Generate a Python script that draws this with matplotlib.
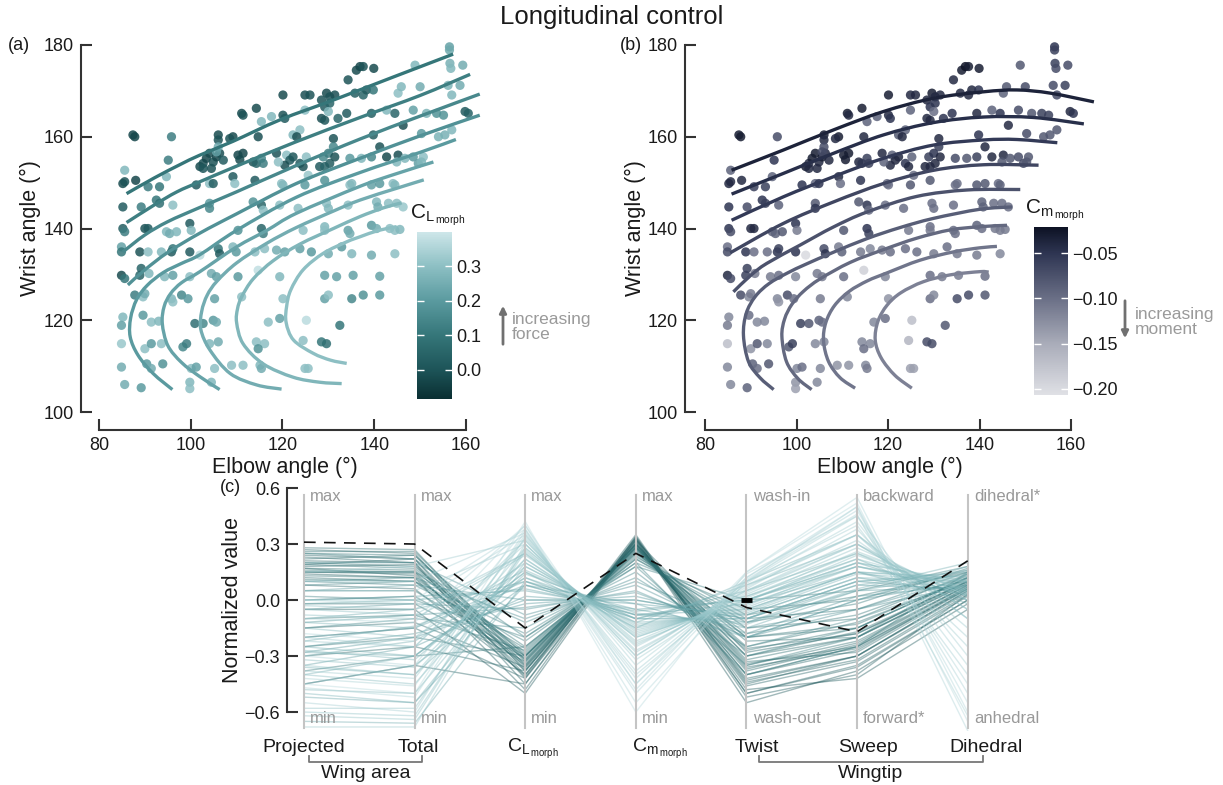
import numpy as np
import matplotlib
matplotlib.use("Agg")
import matplotlib.pyplot as plt
from matplotlib.colors import LinearSegmentedColormap, Normalize
from matplotlib.cm import ScalarMappable
from matplotlib.patches import FancyArrowPatch, PathPatch
from matplotlib.path import Path

plt.rcParams['font.family'] = ['Liberation Sans', 'DejaVu Sans']
plt.rcParams['mathtext.fontset'] = 'custom'
plt.rcParams['mathtext.rm'] = 'Liberation Sans'
plt.rcParams['text.color'] = '#1a1a1a'

# ---- wing configurations: elbow / wrist angle and morphing coefficients ----
elbow = [
    156.4, 156.4, 156.5, 156.7, 159.3, 148.9, 136.1, 136.9, 137.6, 139.9,
    134.3, 150.0, 156.1, 158.7, 156.9, 145.2, 145.9, 137.6, 138.3, 139.8,
    135.8, 129.6, 130.3, 131.4, 128.5, 129.2, 130.3, 124.9, 126.0, 120.1,
    124.9, 130.0, 128.5, 129.2, 134.0, 132.1, 139.4, 142.7, 144.5, 146.3,
    148.5, 151.4, 153.6, 155.1, 159.8, 160.5, 154.0, 155.4, 150.3, 156.9,
    114.3, 111.1, 111.4, 115.4, 117.6, 120.1, 120.5, 109.2, 108.5, 106.0,
    106.0, 114.7, 122.3, 123.8, 123.1, 131.1, 139.8, 95.1, 87.8, 87.4,
    95.8, 85.6, 85.2, 85.6, 88.0, 90.7, 93.2, 94.7, 101.2, 102.0,
    102.7, 103.4, 104.1, 104.9, 105.6, 106.3, 107.1, 104.5, 102.7, 106.0,
    105.6, 109.2, 109.6, 110.3, 110.7, 111.4, 113.6, 114.3, 115.4, 115.8,
    118.7, 120.9, 121.6, 120.5, 119.1, 123.8, 124.5, 125.2, 122.3, 125.6,
    128.1, 129.2, 130.3, 128.9, 130.0, 131.1, 131.4, 134.7, 137.2, 139.4,
    141.2, 142.7, 145.2, 144.9, 146.7, 148.5, 149.6, 150.7, 150.3, 104.1,
    104.9, 114.0, 119.8, 120.1, 124.9, 129.2, 134.7, 135.1, 139.4, 141.2,
    144.1, 144.5, 85.2, 89.2, 92.5, 93.2, 96.1, 104.1, 104.1, 113.6,
    115.4, 115.8, 119.4, 123.4, 129.6, 130.0, 134.3, 140.5, 140.8, 143.1,
    144.9, 146.3, 85.2, 85.6, 90.0, 90.7, 94.7, 95.4, 96.9, 99.8,
    100.1, 110.3, 115.4, 115.8, 124.5, 129.2, 129.2, 134.3, 134.7, 139.4,
    140.5, 143.4, 144.5, 145.6, 84.9, 84.9, 88.9, 90.7, 93.6, 95.8,
    96.1, 99.8, 102.0, 106.0, 106.3, 109.2, 109.9, 114.0, 116.1, 118.7,
    120.5, 123.8, 126.3, 130.0, 132.9, 135.1, 139.4, 144.5, 84.9, 85.6,
    89.2, 88.9, 90.9, 94.3, 96.1, 99.8, 104.5, 105.6, 110.3, 114.7,
    119.4, 129.2, 131.8, 135.4, 141.2, 87.8, 89.6, 90.0, 95.8, 96.1,
    98.0, 99.4, 105.2, 111.1, 120.1, 129.2, 130.0, 135.1, 137.6, 141.2,
    85.2, 84.9, 89.6, 91.4, 93.0, 100.9, 102.7, 104.9, 105.6, 116.9,
    119.4, 125.2, 132.5, 84.9, 90.0, 91.4, 93.6, 98.3, 99.1, 104.1,
    106.0, 114.3, 116.1, 114.7, 124.5, 128.5, 129.6, 84.9, 90.4, 91.4,
    93.9, 100.1, 101.2, 105.2, 108.9, 111.4, 115.1, 115.4, 124.9, 125.6,
    85.6, 89.2, 99.8, 99.8, 104.5]

wrist = [
    179.6, 178.9, 176.0, 174.9, 175.6, 175.6, 174.5, 175.3, 175.3, 174.9,
    172.4, 170.9, 171.2, 171.2, 169.1, 169.5, 170.9, 169.1, 170.2, 170.2,
    169.5, 169.5, 168.7, 169.1, 168.0, 166.5, 167.3, 169.1, 169.1, 169.1,
    165.8, 165.5, 164.0, 163.6, 165.1, 164.0, 165.1, 165.8, 165.1, 162.5,
    165.8, 165.1, 165.1, 164.7, 165.5, 165.1, 160.0, 160.4, 160.7, 161.5,
    166.2, 165.1, 164.7, 163.3, 164.4, 164.7, 164.0, 160.0, 159.6, 160.4,
    159.3, 160.0, 160.4, 161.5, 160.0, 159.6, 160.4, 154.9, 160.0, 160.4,
    160.0, 152.7, 149.8, 150.2, 150.5, 149.1, 149.1, 151.3, 149.5, 153.5,
    154.2, 155.3, 156.4, 154.5, 155.6, 156.4, 154.9, 153.1, 153.1, 157.8,
    156.7, 151.3, 149.8, 156.0, 155.0, 156.4, 154.5, 154.2, 155.3, 154.2,
    156.4, 156.0, 154.9, 153.8, 154.5, 154.2, 153.5, 155.6, 155.6, 151.6,
    153.5, 153.5, 154.2, 155.6, 156.4, 157.8, 155.6, 155.3, 155.3, 155.6,
    157.8, 155.6, 156.0, 154.5, 155.3, 155.6, 154.2, 155.6, 154.5, 149.8,
    149.8, 150.5, 149.8, 149.5, 149.5, 150.5, 149.5, 149.8, 149.5, 149.8,
    149.8, 149.5, 144.7, 144.7, 146.2, 145.5, 145.1, 145.5, 144.4, 145.8,
    145.1, 144.0, 145.1, 144.4, 145.5, 144.4, 145.1, 145.8, 144.7, 145.5,
    145.5, 144.7, 140.0, 139.3, 140.0, 140.0, 139.3, 138.9, 139.3, 141.1,
    139.6, 139.6, 140.0, 138.9, 139.6, 140.4, 139.6, 139.6, 138.9, 140.7,
    140.0, 140.0, 139.6, 139.8, 136.0, 134.9, 134.9, 134.9, 134.9, 134.9,
    135.6, 134.9, 134.2, 135.6, 134.5, 136.0, 134.9, 134.9, 135.6, 135.3,
    134.9, 135.6, 134.9, 134.5, 136.0, 134.5, 134.2, 134.5, 129.8, 129.1,
    131.3, 129.8, 130.2, 129.5, 129.8, 129.5, 130.2, 129.5, 129.5, 130.9,
    129.5, 129.8, 129.5, 129.8, 129.6, 125.5, 125.1, 125.8, 124.7, 124.0,
    125.5, 124.7, 124.7, 125.1, 124.7, 124.7, 125.5, 124.7, 125.5, 125.5,
    120.7, 118.9, 121.1, 119.6, 119.8, 119.3, 119.3, 120.0, 119.6, 119.6,
    120.4, 120.0, 118.9, 114.9, 113.8, 114.9, 114.9, 114.2, 114.9, 114.9,
    115.3, 115.3, 114.9, 113.8, 115.6, 115.3, 114.9, 109.8, 110.5, 109.5,
    110.5, 109.5, 109.8, 109.5, 110.2, 110.2, 110.2, 109.5, 109.5, 109.5,
    106.0, 105.3, 106.5, 105.1, 106.5]

cl_morph = [
    0.22, 0.24, 0.26, 0.28, 0.25, 0.28, -0.02, -0.03, 0.00, -0.02,
    0.00, 0.25, 0.27, 0.25, 0.28, 0.30, 0.28, 0.05, 0.02, 0.10,
    0.03, -0.02, 0.00, -0.01, 0.00, 0.02, 0.05, -0.01, 0.00, -0.02,
    0.30, 0.28, -0.01, 0.01, 0.02, 0.05, 0.03, 0.28, 0.05, -0.01,
    0.22, 0.27, 0.18, 0.18, 0.02, 0.04, 0.27, 0.26, 0.20, 0.28,
    -0.02, -0.02, 0.00, 0.28, 0.28, 0.00, 0.02, -0.02, 0.00, -0.02,
    0.00, -0.01, 0.28, 0.30, -0.01, 0.00, 0.03, 0.12, -0.03, -0.03,
    0.12, 0.28, -0.02, 0.00, -0.03, 0.12, 0.10, 0.28, 0.02, -0.02,
    -0.01, -0.03, -0.02, 0.00, -0.03, -0.01, 0.02, 0.00, 0.01, 0.25,
    0.22, 0.02, 0.30, -0.03, -0.02, -0.03, 0.00, 0.05, 0.15, 0.12,
    0.00, 0.30, 0.02, -0.01, 0.30, 0.02, 0.00, 0.30, 0.01, 0.32,
    0.02, 0.05, 0.03, 0.15, 0.12, 0.15, 0.00, 0.20, 0.28, 0.15,
    0.00, -0.02, -0.01, 0.28, 0.28, 0.20, 0.22, 0.30, 0.28, 0.30,
    0.03, 0.02, 0.30, 0.28, 0.20, 0.18, 0.30, 0.28, 0.22, 0.20,
    0.30, 0.28, 0.02, 0.12, 0.10, 0.08, 0.30, 0.20, 0.15, 0.18,
    0.05, 0.30, 0.30, 0.30, 0.30, 0.28, 0.30, 0.28, 0.25, 0.30,
    0.30, 0.32, 0.03, 0.12, 0.00, 0.02, 0.28, 0.25, 0.28, 0.02,
    0.28, 0.18, 0.05, 0.12, 0.30, 0.28, 0.30, 0.22, 0.25, 0.20,
    0.25, 0.30, 0.30, 0.28, 0.22, 0.10, 0.00, 0.30, 0.28, 0.02,
    0.10, 0.02, 0.37, 0.10, 0.02, 0.28, 0.20, 0.30, 0.30, 0.25,
    0.22, 0.22, 0.20, 0.25, 0.20, 0.28, 0.25, 0.30, -0.02, 0.10,
    0.05, 0.05, 0.28, 0.28, 0.22, 0.30, 0.25, 0.22, 0.20, 0.38,
    0.28, 0.22, 0.22, 0.22, 0.22, 0.12, 0.30, 0.25, 0.28, 0.30,
    0.15, 0.20, 0.22, 0.30, 0.30, 0.22, 0.30, 0.15, 0.18, 0.20,
    0.28, 0.22, 0.20, 0.30, 0.28, 0.08, 0.15, 0.20, 0.25, 0.30,
    0.22, 0.37, 0.10, 0.32, 0.30, 0.20, 0.30, 0.15, 0.12, 0.28,
    0.25, 0.30, 0.30, 0.18, 0.30, 0.10, 0.08, 0.25, 0.20, 0.25,
    0.18, 0.30, 0.22, 0.30, 0.30, 0.30, 0.28, 0.25, 0.30, 0.30,
    0.25, 0.20, 0.28, 0.30, 0.28]

cm_morph = [
    -0.05, -0.06, -0.06, -0.07, -0.07, -0.08, -0.03, -0.02, -0.03, -0.03,
    -0.04, -0.07, -0.07, -0.06, -0.07, -0.09, -0.08, -0.04, -0.04, -0.05,
    -0.04, -0.03, -0.04, -0.04, -0.04, -0.05, -0.05, -0.04, -0.04, -0.03,
    -0.09, -0.10, -0.04, -0.04, -0.05, -0.05, -0.04, -0.09, -0.05, -0.04,
    -0.07, -0.08, -0.06, -0.06, -0.04, -0.05, -0.08, -0.08, -0.07, -0.08,
    -0.03, -0.03, -0.04, -0.09, -0.09, -0.04, -0.05, -0.03, -0.04, -0.03,
    -0.04, -0.04, -0.08, -0.09, -0.04, -0.04, -0.05, -0.05, -0.03, -0.03,
    -0.07, -0.09, -0.04, -0.04, -0.04, -0.06, -0.06, -0.09, -0.05, -0.03,
    -0.04, -0.03, -0.03, -0.04, -0.03, -0.04, -0.04, -0.04, -0.04, -0.07,
    -0.07, -0.04, -0.10, -0.03, -0.03, -0.03, -0.04, -0.05, -0.06, -0.06,
    -0.04, -0.09, -0.04, -0.04, -0.09, -0.05, -0.04, -0.09, -0.04, -0.10,
    -0.04, -0.04, -0.04, -0.06, -0.05, -0.06, -0.04, -0.07, -0.08, -0.06,
    -0.04, -0.04, -0.04, -0.08, -0.08, -0.07, -0.07, -0.08, -0.08, -0.09,
    -0.05, -0.05, -0.10, -0.10, -0.08, -0.08, -0.10, -0.10, -0.08, -0.08,
    -0.10, -0.09, -0.05, -0.07, -0.05, -0.06, -0.09, -0.08, -0.05, -0.08,
    -0.05, -0.10, -0.10, -0.10, -0.10, -0.10, -0.10, -0.09, -0.09, -0.10,
    -0.10, -0.10, -0.05, -0.07, -0.04, -0.04, -0.09, -0.09, -0.08, -0.05,
    -0.11, -0.08, -0.05, -0.06, -0.11, -0.10, -0.11, -0.10, -0.10, -0.09,
    -0.10, -0.11, -0.11, -0.11, -0.10, -0.07, -0.05, -0.10, -0.10, -0.05,
    -0.06, -0.05, -0.20, -0.07, -0.05, -0.11, -0.09, -0.11, -0.12, -0.11,
    -0.10, -0.10, -0.10, -0.11, -0.10, -0.11, -0.11, -0.12, -0.04, -0.07,
    -0.06, -0.06, -0.11, -0.11, -0.10, -0.12, -0.11, -0.11, -0.10, -0.19,
    -0.12, -0.10, -0.11, -0.11, -0.10, -0.07, -0.12, -0.11, -0.12, -0.13,
    -0.07, -0.10, -0.11, -0.12, -0.13, -0.10, -0.12, -0.07, -0.07, -0.08,
    -0.12, -0.11, -0.10, -0.12, -0.12, -0.06, -0.08, -0.09, -0.10, -0.12,
    -0.10, -0.17, -0.08, -0.17, -0.13, -0.08, -0.12, -0.08, -0.06, -0.12,
    -0.12, -0.12, -0.12, -0.10, -0.16, -0.07, -0.07, -0.12, -0.09, -0.10,
    -0.08, -0.12, -0.10, -0.12, -0.13, -0.13, -0.12, -0.11, -0.14, -0.14,
    -0.12, -0.09, -0.13, -0.14, -0.12]

# ---- fitted iso-lines (elbow, wrist) of C_L and C_m ----
cl_curves = [
    ([86.0, 92.0, 97.6, 102.0, 109.2, 119.5, 131.1, 144.1, 157.2],
     [147.6, 151.0, 153.9, 156.0, 159.0, 163.7, 168.0, 173.0, 178.0]),
    ([86.0, 92.0, 97.0, 102.0, 110.0, 122.7, 136.9, 150.0, 160.9],
     [141.3, 145.1, 148.0, 150.2, 153.6, 158.8, 164.2, 169.0, 173.6]),
    ([85.2, 90.0, 95.0, 102.0, 110.0, 122.7, 136.9, 150.0, 163.0],
     [134.9, 138.6, 141.5, 144.6, 148.0, 153.6, 159.5, 164.5, 169.3]),
    ([86.3, 90.0, 95.0, 102.0, 110.0, 123.0, 136.9, 150.0, 163.0],
     [127.7, 131.0, 134.8, 139.0, 143.2, 149.8, 155.3, 160.2, 164.7]),
    ([96.0, 91.8, 88.5, 86.8, 86.9, 88.2, 90.5, 94.0, 98.0, 102.0, 110.0, 123.0, 136.9, 150.0, 157.8],
     [104.9, 108.4, 112.4, 116.4, 120.5, 124.5, 127.6, 130.4, 132.4, 134.3, 139.6, 146.8, 152.2, 156.6, 159.4]),
    ([106.3, 102.0, 98.0, 95.0, 93.8, 94.2, 95.6, 98.0, 102.0, 110.0, 116.6, 123.0, 136.9, 145.0, 152.9],
     [104.9, 107.7, 110.8, 114.5, 119.3, 123.0, 125.8, 128.2, 130.6, 136.0, 139.6, 143.3, 149.2, 152.0, 154.5]),
    ([119.8, 114.4, 108.6, 104.2, 102.2, 102.4, 103.6, 105.7, 110.0, 116.6, 123.0, 131.1, 136.9, 145.0, 150.8],
     [105.0, 105.9, 108.4, 113.5, 118.0, 122.0, 125.5, 128.5, 132.5, 136.8, 140.2, 143.8, 146.2, 148.8, 150.6]),
    ([132.9, 128.1, 122.3, 115.8, 111.4, 110.0, 110.2, 111.1, 113.6, 118.0, 123.8, 131.1, 136.9, 142.0, 146.0],
     [106.2, 106.5, 107.6, 110.5, 114.9, 119.5, 122.5, 125.1, 129.0, 133.0, 136.6, 140.0, 142.6, 144.5, 145.6]),
    ([134.0, 130.5, 126.7, 122.4, 120.8, 120.9, 121.8, 124.5, 128.9, 134.0, 136.9, 141.0, 144.9],
     [110.6, 111.3, 112.8, 115.7, 119.5, 123.0, 126.6, 131.0, 134.6, 137.1, 138.2, 139.6, 140.4]),
]
cl_levels = [0.10, 0.125, 0.15, 0.175, 0.20, 0.225, 0.25, 0.275, 0.30]

cm_curves = [
    ([85.8, 97.1, 108.1, 119.0, 130.0, 140.9, 148.2, 155.5, 165.0],
     [152.7, 157.1, 161.5, 165.5, 168.4, 169.8, 170.2, 169.5, 167.6]),
    ([85.8, 97.1, 108.1, 119.0, 130.0, 140.9, 151.8, 162.8],
     [147.5, 152.0, 156.4, 160.4, 163.1, 164.3, 164.2, 162.8]),
    ([85.8, 97.1, 108.1, 119.0, 130.0, 140.9, 148.2, 157.0],
     [141.8, 146.9, 151.3, 155.3, 158.2, 159.3, 159.4, 158.7]),
    ([85.5, 97.1, 108.1, 119.0, 130.0, 140.9, 152.9],
     [134.7, 141.1, 145.8, 149.8, 152.7, 153.9, 153.8]),
    ([86.2, 90.0, 93.5, 100.8, 108.0, 115.4, 126.3, 137.3, 148.9],
     [126.2, 129.8, 132.4, 136.4, 140.3, 143.6, 147.0, 148.4, 148.5]),
    ([95.0, 92.0, 89.5, 88.4, 89.0, 91.0, 94.0, 98.0, 102.0, 108.0, 115.4, 122.6, 129.9, 140.1, 147.1],
     [104.9, 107.5, 111.0, 116.7, 121.5, 125.2, 128.0, 130.3, 132.2, 134.8, 137.8, 140.2, 142.2, 144.2, 144.7]),
    ([103.3, 100.3, 97.8, 96.8, 97.4, 99.0, 101.5, 105.1, 111.7, 119.0, 126.3, 133.6, 140.1, 146.0],
     [104.9, 107.3, 111.0, 116.5, 120.3, 123.5, 126.3, 129.0, 132.6, 135.4, 137.9, 139.7, 140.4, 140.7]),
    ([112.8, 109.5, 107.0, 105.9, 106.4, 108.3, 111.5, 115.5, 119.7, 127.0, 134.3, 140.1, 143.8],
     [105.2, 107.5, 111.0, 115.5, 119.5, 123.2, 126.3, 128.6, 130.3, 133.1, 134.9, 135.8, 136.1]),
    ([125.2, 121.5, 118.5, 117.2, 117.8, 119.8, 122.8, 127.7, 133.6, 140.1, 142.0],
     [105.2, 108.0, 111.8, 115.7, 119.8, 123.3, 126.0, 128.4, 129.9, 130.6, 130.5]),
]
cm_levels = [-0.035, -0.045, -0.055, -0.065, -0.075, -0.085, -0.095, -0.105, -0.115]

# ---- parallel coordinates (normalized values) ----
axis_names = ['Projected', 'Total', r'$\mathregular{C_{L_{\,morph}}}$',
              r'$\mathregular{C_{m_{\,morph}}}$', 'Twist', 'Sweep', 'Dihedral']
top_names = ['max', 'max', 'max', 'max', 'wash-in', 'backward', 'dihedral*']
bottom_names = ['min', 'min', 'min', 'min', 'wash-out', 'forward*', 'anhedral']

pc_projected = [
    0.28, 0.27, 0.25, 0.24, 0.22, 0.21, 0.20, 0.19, 0.18, 0.17, 0.16, 0.15, 0.14, 0.13, 0.12,
    0.10, 0.08, 0.05, 0.02, -0.02, -0.05, -0.10, -0.15, -0.20, -0.25, -0.30, -0.38, -0.45,
    0.26, 0.23, 0.19, 0.17, 0.15, 0.11, 0.00,
    0.10, 0.05, 0.00, -0.05, -0.10, -0.15, -0.20, -0.25, -0.30, 0.15, 0.20, -0.35, -0.40,
    0.08, -0.02, -0.12, -0.22, -0.28, 0.25, -0.45,
    0.05, 0.00, -0.05, -0.10, -0.15, -0.20, -0.25, -0.30, -0.35, -0.40, -0.45, -0.50, -0.55,
    -0.60, -0.65, -0.68, 0.10, -0.08, -0.18, -0.28, -0.38, -0.48, -0.58, 0.00, -0.12, -0.22,
    -0.32, -0.42, -0.52, -0.62, 0.15, -0.03, -0.27, -0.47, -0.36]
pc_total = [
    0.27, 0.25, 0.24, 0.22, 0.24, 0.20, 0.18, 0.22, 0.19, 0.16, 0.15, 0.14, 0.12, 0.12, 0.10,
    0.08, 0.06, 0.05, 0.00, -0.02, -0.05, -0.08, -0.12, -0.15, -0.20, -0.25, -0.30, -0.35,
    0.26, 0.20, 0.17, 0.13, 0.15, 0.10, 0.02,
    0.12, 0.08, 0.02, -0.02, -0.05, -0.10, -0.15, -0.18, -0.22, 0.15, 0.20, -0.25, -0.30,
    0.10, 0.00, -0.08, -0.14, -0.20, 0.22, -0.35,
    0.05, -0.02, -0.08, -0.12, -0.20, -0.25, -0.30, -0.35, -0.40, -0.45, -0.50, -0.55, -0.60,
    -0.62, -0.66, -0.68, 0.10, -0.10, -0.22, -0.30, -0.42, -0.50, -0.58, 0.00, -0.15, -0.25,
    -0.36, -0.46, -0.55, -0.64, 0.18, -0.05, -0.32, -0.52, -0.40]
pc_cl = [
    -0.35, -0.38, -0.30, -0.42, -0.33, -0.45, -0.28, -0.36, -0.40, -0.32, -0.25, -0.38, -0.48,
    -0.30, -0.35, -0.22, -0.40, -0.30, -0.20, -0.33, -0.50, -0.27, -0.36, -0.42, -0.30, -0.38,
    -0.25, -0.45, -0.32, -0.37, -0.29, -0.34, -0.41, -0.26, -0.31,
    -0.10, 0.00, 0.05, -0.05, 0.10, -0.15, 0.08, -0.02, 0.12, -0.12, -0.08, 0.02, 0.15,
    -0.18, 0.06, -0.04, 0.10, 0.00, -0.20, 0.08,
    0.30, 0.35, 0.25, 0.40, 0.20, 0.32, 0.15, 0.38, 0.28, 0.22, 0.42, 0.18, 0.34, 0.26, 0.10,
    0.30, 0.36, 0.24, 0.40, 0.12, 0.33, 0.20, 0.27, 0.38, 0.16, 0.30, 0.22, 0.35, 0.08, 0.28,
    0.32, 0.25, 0.18, 0.37, 0.14]
pc_cm = [
    0.30, 0.33, 0.28, 0.35, 0.30, 0.34, 0.25, 0.30, 0.32, 0.28, 0.22, 0.31, 0.34, 0.27, 0.29,
    0.20, 0.32, 0.26, 0.18, 0.28, 0.33, 0.24, 0.29, 0.31, 0.26, 0.30, 0.22, 0.32, 0.28, 0.30,
    0.25, 0.29, 0.33, 0.23, 0.27,
    0.10, 0.00, -0.05, 0.05, -0.10, 0.15, -0.08, 0.02, -0.12, 0.12, 0.08, -0.02, -0.15,
    0.18, -0.06, 0.04, -0.10, 0.00, 0.20, -0.08,
    -0.25, -0.35, -0.20, -0.45, -0.15, -0.30, -0.10, -0.50, -0.22, -0.18, -0.60, -0.12, -0.38,
    -0.20, -0.05, -0.28, -0.42, -0.17, -0.55, -0.08, -0.32, -0.14, -0.24, -0.48, -0.10, -0.27,
    -0.16, -0.40, -0.02, -0.23, -0.30, -0.19, -0.13, -0.45, -0.07]
pc_twist = [
    -0.30, -0.45, -0.20, -0.50, -0.35, -0.52, -0.15, -0.40, -0.28, -0.33, -0.10, -0.42, -0.48,
    -0.25, -0.38, -0.05, -0.46, -0.22, 0.00, -0.30, -0.55, -0.18, -0.36, -0.43, -0.27, -0.40,
    -0.12, -0.50, -0.32, -0.37, -0.20, -0.34, -0.44, -0.08, -0.26,
    -0.15, -0.10, 0.00, -0.20, 0.05, -0.30, -0.05, -0.12, 0.08, -0.25, -0.20, -0.08, 0.10,
    -0.35, 0.00, -0.18, 0.02, -0.10, -0.40, -0.02,
    0.05, 0.10, 0.00, 0.15, -0.05, 0.08, -0.10, 0.12, 0.02, -0.02, 0.15, -0.08, 0.10, 0.00,
    -0.15, 0.05, 0.12, -0.03, 0.10, -0.12, 0.06, -0.06, 0.03, 0.14, -0.10, 0.04, -0.04, 0.09,
    -0.20, 0.01, 0.07, -0.01, -0.07, 0.11, -0.13]
pc_sweep = [
    -0.20, -0.30, -0.15, -0.35, -0.22, -0.40, -0.10, -0.25, -0.18, -0.28, -0.05, -0.30, -0.42,
    -0.12, -0.24, 0.00, -0.33, -0.20, 0.05, -0.17, -0.38, -0.08, -0.26, -0.30, -0.15, -0.27,
    -0.02, -0.36, -0.20, -0.23, -0.13, -0.25, -0.32, 0.02, -0.18,
    -0.05, 0.10, 0.20, 0.00, 0.25, -0.15, 0.15, 0.05, 0.30, -0.10, -0.05, 0.12, 0.35,
    -0.20, 0.18, 0.02, 0.22, 0.08, -0.25, 0.15,
    0.30, 0.45, 0.20, 0.55, 0.15, 0.35, 0.10, 0.50, 0.25, 0.18, 0.52, 0.12, 0.40, 0.22, 0.05,
    0.32, 0.48, 0.20, 0.50, 0.08, 0.38, 0.15, 0.28, 0.45, 0.10, 0.30, 0.18, 0.42, 0.00, 0.26,
    0.35, 0.24, 0.14, 0.46, 0.06]
pc_dihedral = [
    0.10, 0.05, 0.12, 0.00, 0.08, 0.03, 0.14, 0.07, 0.10, 0.06, 0.15, 0.04, -0.05, 0.11, 0.08,
    0.16, 0.02, 0.09, 0.18, 0.10, -0.02, 0.13, 0.06, 0.05, 0.12, 0.07, 0.17, 0.00, 0.09, 0.08,
    0.12, 0.06, 0.03, 0.15, 0.10,
    0.08, 0.05, 0.02, 0.10, 0.00, 0.12, 0.04, 0.07, -0.05, 0.10, 0.12, 0.03, -0.10,
    0.14, 0.05, 0.08, -0.02, 0.06, 0.15, 0.00,
    0.00, -0.30, 0.10, -0.60, 0.12, -0.20, 0.15, -0.70, 0.05, 0.08, -0.65, 0.10, -0.40, 0.06,
    0.14, -0.10, -0.50, 0.09, -0.55, 0.16, -0.25, 0.11, 0.02, -0.45, 0.13, -0.05, 0.07, -0.35,
    0.18, 0.04, -0.15, 0.03, 0.10, -0.62, 0.20]
pc_reference = [0.31, 0.30, -0.15, 0.25, -0.04, -0.17, 0.21]

W, H = 1223, 785


def box(x0, y0, x1, y1):
    # pixel box measured from top-left -> figure rect
    return [x0 / W, 1 - y1 / H, (x1 - x0) / W, (y1 - y0) / H]


cmap_cl = LinearSegmentedColormap.from_list(
    'cl', [(0.0, '#0a2f32'), (0.175, '#1d5458'), (0.381, '#357679'),
           (0.588, '#5a9a9f'), (0.794, '#8cbfc3'), (1.0, '#cde6e9')])
norm_cl = Normalize(-0.085, 0.40)
cmap_cm = LinearSegmentedColormap.from_list(
    'cm', [(0.0, '#dfe0e5'), (0.306, '#a9acb9'), (0.575, '#6a6f86'),
           (0.844, '#2e3552'), (1.0, '#0d1224')])
norm_cm = Normalize(-0.207, -0.021)


def smoothCurve(xs, ys):
    # pass a cubic Bezier through the traced points (Catmull-Rom tangents)
    p = np.column_stack([xs, ys])
    ext = np.vstack([p[0], p, p[-1]])
    verts = [p[0]]
    codes = [Path.MOVETO]
    for i in range(len(p) - 1):
        c1 = ext[i + 1] + (ext[i + 2] - ext[i]) / 6.0
        c2 = ext[i + 2] - (ext[i + 3] - ext[i + 1]) / 6.0
        verts += [c1, c2, p[i + 1]]
        codes += [Path.CURVE4] * 3
    return Path(verts, codes)


def styleAxis(ax):
    for side in ['top', 'right']:
        ax.spines[side].set_visible(False)
    for side in ['left', 'bottom']:
        ax.spines[side].set_color('#333333')
        ax.spines[side].set_linewidth(1.5)
    ax.tick_params(direction='in', length=8, width=1.5, color='#333333',
                   labelsize=13, labelcolor='#1a1a1a', pad=5)


def scatterPanel(rect, xlim, values, cmap, norm, curves, levels):
    ax = fig.add_axes(rect)
    ax.scatter(elbow, wrist, c=values, cmap=cmap, norm=norm, s=44,
               alpha=0.85, linewidths=0, zorder=2)
    for (cx, cy), lev in zip(curves, levels):
        ax.add_patch(PathPatch(smoothCurve(cx, cy), fill=False, lw=2.4,
                               edgecolor=cmap(norm(lev)), zorder=3, capstyle='butt'))
    ax.set_xlim(*xlim)
    ax.set_ylim(96, 181)
    ax.set_xticks([80, 100, 120, 140, 160])
    ax.set_yticks([100, 120, 140, 160, 180])
    ax.spines['left'].set_bounds(100, 180)
    ax.spines['bottom'].set_bounds(80, 160)
    styleAxis(ax)
    return ax


def colorBar(rect, cmap, norm, ticks, labels):
    cax = fig.add_axes(rect)
    cb = fig.colorbar(ScalarMappable(norm=norm, cmap=cmap), cax=cax)
    cb.outline.set_visible(False)
    cb.set_ticks(ticks)
    cb.set_ticklabels(labels)
    cax.tick_params(axis='y', direction='in', length=5, width=1, color='white',
                    left=True, right=True, labelleft=False, labelright=True,
                    labelsize=13, labelcolor='#1a1a1a', pad=3)
    return cax


def arrowNote(x, y_tail, y_head, lines, tx, ty):
    arr = FancyArrowPatch((x / W, 1 - y_tail / H), (x / W, 1 - y_head / H),
                          transform=fig.transFigure, arrowstyle='-|>',
                          mutation_scale=10, lw=2, color='#707070')
    fig.add_artist(arr)
    fig.text(tx / W, 1 - ty / H, lines, fontsize=12.5, color='#9a9a9a',
             va='center', ha='left', linespacing=1.05)


fig = plt.figure(figsize=(W / 100, H / 100), dpi=100)

fig.text(0.5, 1 - 17 / H, 'Longitudinal control', ha='center', va='center', fontsize=18.5)

# (a) lift coefficient
scatterPanel(box(80.65, 40.4, 493.5, 430.4), (76, 166), cl_morph, cmap_cl, norm_cl,
             cl_curves, cl_levels)
fig.text(8 / W, 1 - 45 / H, '(a)', fontsize=13, va='center')
fig.text(30 / W, 1 - 228 / H, 'Wrist angle (°)', rotation=90, fontsize=15.5,
         ha='center', va='center')
fig.text(285 / W, 1 - 467 / H, 'Elbow angle (°)', fontsize=15.5, ha='center', va='center')
colorBar(box(417, 232, 452, 399), cmap_cl, norm_cl, [0.0, 0.1, 0.2, 0.3],
         ['0.0', '0.1', '0.2', '0.3'])
fig.text(410 / W, 1 - 218 / H, r'$\mathregular{C_{L_{\,morph}}}$', fontsize=15,
         va='baseline')
arrowNote(503, 347, 303, 'increasing\nforce', 512, 327)

# (b) pitching moment coefficient
scatterPanel(box(684.9, 40.4, 1098.5, 430.4), (75.6, 166), cm_morph, cmap_cm, norm_cm,
             cm_curves, cm_levels)
fig.text(620 / W, 1 - 45 / H, '(b)', fontsize=13, va='center')
fig.text(635 / W, 1 - 228 / H, 'Wrist angle (°)', rotation=90, fontsize=15.5,
         ha='center', va='center')
fig.text(890 / W, 1 - 467 / H, 'Elbow angle (°)', fontsize=15.5, ha='center', va='center')
colorBar(box(1034, 227, 1068, 395), cmap_cm, norm_cm, [-0.05, -0.10, -0.15, -0.20],
         ['\u22120.05', '\u22120.10', '\u22120.15', '\u22120.20'])
fig.text(1025 / W, 1 - 213 / H, r'$\mathregular{C_{m_{\,morph}}}$', fontsize=15,
         va='baseline')
arrowNote(1125, 298, 341, 'increasing\nmoment', 1135, 322)

# (c) parallel coordinates
axc = fig.add_axes(box(287, 484.3, 1023, 730.7))
columns = [pc_projected, pc_total, pc_cl, pc_cm, pc_twist, pc_sweep, pc_dihedral]
line_norm = Normalize(-0.75, 0.5)
for i in range(len(pc_projected)):
    vals = [col[i] for col in columns]
    axc.plot(range(7), vals, color=cmap_cl(line_norm(pc_cl[i])), alpha=0.42, lw=1.0,
             zorder=2)
axc.plot(range(7), pc_reference, color='#111111', lw=1.2, dashes=(7, 5), zorder=5)
axc.plot([3.95, 4.05], [0, 0], color='black', lw=3.5, solid_capstyle='butt', zorder=6)
for k in range(7):
    axc.plot([k, k], [-0.686, 0.5625], color='#c4c4c4', lw=1.5, zorder=3)
    axc.text(k + 0.055, 0.553, top_names[k], fontsize=12, color='#999999', va='center')
    axc.text(k + 0.055, -0.634, bottom_names[k], fontsize=12, color='#999999', va='center')

label_shift = [0.0, 0.03, 0.07, 0.22, 0.09, 0.10, 0.17]
for k in range(7):
    axc.text(k + label_shift[k], -0.815, axis_names[k], fontsize=14, ha='center',
             va='baseline', clip_on=False)

# category brackets under the axes
for x0, x1, name in [(0.045, 1.066, 'Wing area'), (4.11, 6.14, 'Wingtip')]:
    axc.plot([x0, x0, x1, x1], [-0.836, -0.868, -0.868, -0.836], color='#777777',
             lw=1.3, clip_on=False)
    axc.text((x0 + x1) / 2, -0.93, name, fontsize=14, ha='center', va='center')

axc.set_xlim(-0.1536, 6.5)
axc.set_ylim(-0.70, 0.62)
axc.set_xticks([])
axc.set_yticks([-0.6, -0.3, 0.0, 0.3, 0.6])
axc.set_yticklabels(['\u22120.6', '\u22120.3', '0.0', '0.3', '0.6'])
axc.spines['bottom'].set_visible(False)
axc.spines['left'].set_bounds(-0.6, 0.6)
styleAxis(axc)
fig.text(233 / W, 1 - 600 / H, 'Normalized value', rotation=90, fontsize=15.5,
         ha='center', va='center')
fig.text(220 / W, 1 - 487 / H, '(c)', fontsize=13, va='center')

fig.savefig('out.png', dpi=100)
